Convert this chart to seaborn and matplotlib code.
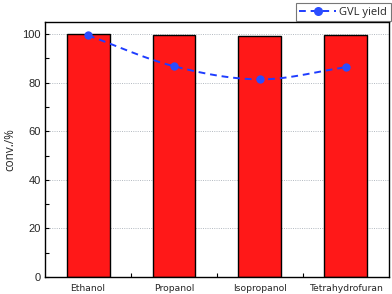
import matplotlib.pyplot as plt
import numpy as np
import pandas as pd
import seaborn as sns
from matplotlib.ticker import MultipleLocator

# data
solvents = ['Ethanol', 'Propanol', 'Isopropanol', 'Tetrahydrofuran']
conversion = [100.0, 99.5, 99.2, 99.7]
gvl_yield = [99.5, 86.8, 81.4, 86.4]

df = pd.DataFrame({'Solvent': solvents, 'conv': conversion, 'GVL': gvl_yield})

sns.set_theme(style="ticks")
plt.rcParams['font.family'] = ['Liberation Sans', 'DejaVu Sans']

fig, ax = plt.subplots(figsize=(3.92, 2.94), dpi=100)
fig.subplots_adjust(left=0.115, right=0.992, top=0.925, bottom=0.058)

sns.barplot(data=df, x='Solvent', y='conv', color='#ff1818', width=0.5,
            edgecolor='black', linewidth=1.0, saturation=1, ax=ax, zorder=2)

# smooth dashed connector through the yield points (cubic Hermite, Catmull-Rom tangents)
xs = np.arange(len(gvl_yield), dtype=float)
ys = np.array(gvl_yield, dtype=float)
m = np.gradient(ys, xs)
cx, cy = [], []
for i in range(len(xs) - 1):
    t = np.linspace(0, 1, 30)
    h00 = 2*t**3 - 3*t**2 + 1
    h10 = t**3 - 2*t**2 + t
    h01 = -2*t**3 + 3*t**2
    h11 = t**3 - t**2
    cx.extend(xs[i] + t)
    cy.extend(h00*ys[i] + h10*m[i] + h01*ys[i+1] + h11*m[i+1])
ax.plot(cx, cy, color='#1f3dff', ls=(0, (3.5, 2.5)), lw=1.4, zorder=3)
sns.scatterplot(x=xs, y=ys, color='#2a4dff', s=36, edgecolor='#2a4dff',
                linewidth=0, ax=ax, zorder=4)

# legend proxy
ax.plot([], [], color='#1f3dff', ls=(0, (3.5, 2.5)), lw=1.4, marker='o',
        markersize=6.5, markerfacecolor='#2a4dff', markeredgewidth=0, label='GVL yield')
leg = ax.legend(loc='lower right', bbox_to_anchor=(1.008, 1.0), frameon=True,
                fancybox=False, edgecolor='#555555', handlelength=3.3,
                borderpad=0.3, handletextpad=0.3, borderaxespad=0.1,
                prop={'family': 'Open Sans', 'size': 8})
leg.get_frame().set_linewidth(0.8)

ax.set_xlim(-0.5, 3.5)
ax.set_ylim(0, 105)
ax.yaxis.set_major_locator(MultipleLocator(20))
ax.yaxis.set_minor_locator(MultipleLocator(10))
ax.set_xticks([0, 1, 2, 3])
ax.set_xticks([0.5, 1.5, 2.5], minor=True)
ax.grid(axis='y', which='major', color='#a9b0b8', ls=(0, (1.2, 1.5)), lw=0.6, zorder=0)
ax.set_axisbelow(True)

ax.set_xlabel('')
ax.set_ylabel('conv./%', fontsize=8.5, family='Open Sans', labelpad=4)
ax.tick_params(axis='both', which='both', direction='in', length=3, width=0.8, color='black')
ax.tick_params(axis='y', labelsize=8, pad=3)
ax.tick_params(axis='x', labelsize=6.7, pad=5)
for lab in ax.get_xticklabels():
    lab.set_family('DejaVu Sans')

for spine in ax.spines.values():
    spine.set_visible(True)
    spine.set_linewidth(1.0)
    spine.set_edgecolor('black')

fig.savefig('out.png', dpi=100)
